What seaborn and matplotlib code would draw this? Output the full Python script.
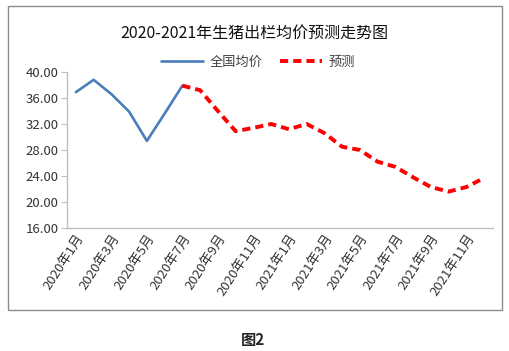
import numpy as np
import pandas as pd
import matplotlib
matplotlib.use("Agg")
import matplotlib.pyplot as plt
import seaborn as sns

sns.set_style("white")
plt.rcParams["font.family"] = ["Noto Sans CJK SC", "DejaVu Sans"]

# ---------------------------------------------------------------------------
# data
# ---------------------------------------------------------------------------
months = [f"2020年{m}月" for m in range(1, 13)] + [f"2021年{m}月" for m in range(1, 13)]
national = [36.9, 38.8, 36.6, 33.9, 29.4, 33.6, 37.9]            # 2020-01 .. 2020-07
forecast = [37.9, 37.2, 34.0, 30.9, 31.4, 32.0, 31.2, 32.0, 30.6,
            28.5, 28.0, 26.2, 25.4, 23.8, 22.3, 21.6, 22.3, 23.7]  # 2020-07 .. 2021-12
yticks = [16, 20, 24, 28, 32, 36, 40]

n = len(months)
df = pd.DataFrame({"pos": np.arange(n), "month": months})
df["全国均价"] = national + [np.nan] * (n - len(national))
df["预测"] = [np.nan] * (n - len(forecast)) + forecast

fig = plt.figure(figsize=(5.09, 3.51), dpi=100)
ax = fig.add_axes([67 / 509, 1 - 228 / 351, (493 - 67) / 509, (228 - 72) / 351])

sns.lineplot(data=df, x="pos", y="全国均价", color="#4A7EBB", lw=1.9, ax=ax,
             label="全国均价")
sns.lineplot(data=df, x="pos", y="预测", color="#FF0000", lw=2.8, ax=ax,
             label="预测", dashes=False)
ax.lines[-1].set_dashes((2.1, 1.3))
ax.lines[-1].set_dash_capstyle("butt")

ax.set_xlim(-0.5, n - 0.5)
ax.set_ylim(16, 40)
ax.set_yticks(yticks)
ax.set_yticklabels([f"{v:.2f}" for v in yticks], fontsize=9.5, color="#333333")

# category axis: tick marks between categories, labels every other month
ax.set_xticks(np.arange(-0.5, n, 2))
ax.set_xticklabels([])
ax.set_xticks(np.arange(0, n, 2), minor=True)
ax.set_xticklabels(months[::2], minor=True, rotation=57, ha="right",
                   rotation_mode="anchor", fontsize=9.5, color="#333333")
ax.tick_params(axis="x", which="major", length=4, color="#BFBFBF", direction="out")
ax.tick_params(axis="x", which="minor", length=0, pad=3)
ax.tick_params(axis="y", length=4, color="#BFBFBF", direction="out", pad=2, left=True)
ax.set_xlabel("")
ax.set_ylabel("")

for s in ["top", "right"]:
    ax.spines[s].set_visible(False)
for s in ["left", "bottom"]:
    ax.spines[s].set_color("#BFBFBF")
    ax.spines[s].set_linewidth(1)

leg = fig.legend(*ax.get_legend_handles_labels(), loc="center",
                 bbox_to_anchor=(258 / 509, 1 - 62 / 351), ncol=2, frameon=False,
                 fontsize=9.5, handlelength=3.2, columnspacing=1.3,
                 handletextpad=0.5, labelcolor="#404040")
ax.get_legend().remove()

fig.text(254 / 509, 1 - 33 / 351, "2020-2021年生猪出栏均价预测走势图",
         ha="center", va="center", fontsize=11.5, color="#111111")
fig.text(253 / 509, 1 - 340 / 351, "图2", ha="center", va="center",
         fontsize=11, fontweight="bold")

# chart frame
fig.add_artist(plt.Rectangle((7.5 / 509, 1 - 310 / 351), (494 / 509), (304 / 351),
                             transform=fig.transFigure, fill=False,
                             edgecolor="#8C8C8C", lw=1))

fig.savefig("out.png", dpi=100)
